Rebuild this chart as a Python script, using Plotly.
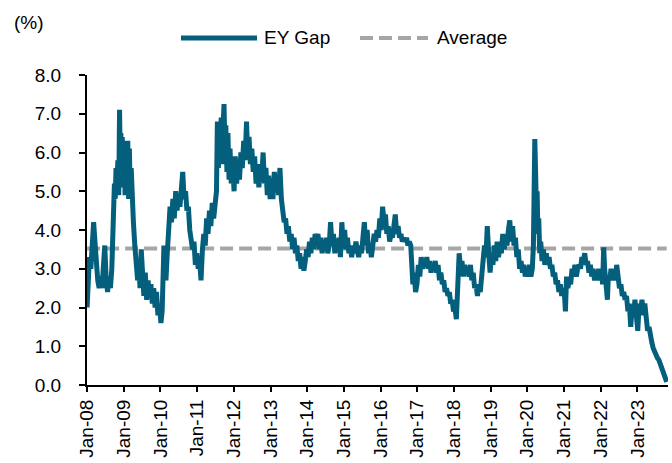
import plotly.graph_objects as go

dates = [
    "2008-01-02","2008-01-15","2008-01-25","2008-02-08","2008-02-22","2008-03-07","2008-03-20","2008-04-03","2008-04-17","2008-05-01","2008-05-15","2008-05-29","2008-06-12","2008-06-26","2008-07-10","2008-07-24","2008-08-07","2008-08-21","2008-09-04","2008-09-18","2008-09-30","2008-10-08","2008-10-16","2008-10-24","2008-11-03","2008-11-12","2008-11-20","2008-11-26","2008-12-03","2008-12-10","2008-12-17","2008-12-24",
    "2009-01-05","2009-01-14","2009-01-22","2009-02-02","2009-02-10","2009-02-18","2009-02-26","2009-03-06","2009-03-16","2009-03-26","2009-04-07","2009-04-21","2009-05-05","2009-05-19","2009-06-02","2009-06-12","2009-06-24","2009-07-06","2009-07-20","2009-08-03","2009-08-17","2009-08-31","2009-09-14","2009-09-28","2009-10-12","2009-10-26","2009-11-09","2009-11-23","2009-12-07","2009-12-21",
    "2010-01-06","2010-01-18","2010-01-28","2010-02-05","2010-02-15","2010-02-25","2010-03-10","2010-03-24","2010-04-07","2010-04-21","2010-05-05","2010-05-19","2010-06-02","2010-06-16","2010-06-30","2010-07-14","2010-07-28","2010-08-11","2010-08-25","2010-09-08","2010-09-22","2010-10-06","2010-10-20","2010-11-03","2010-11-17","2010-12-01","2010-12-15","2010-12-29",
    "2011-01-12","2011-01-26","2011-02-09","2011-02-23","2011-03-09","2011-03-23","2011-04-06","2011-04-20","2011-05-04","2011-05-18","2011-06-01","2011-06-15","2011-06-29","2011-07-13","2011-07-22","2011-08-01","2011-08-10","2011-08-19","2011-08-29","2011-09-08","2011-09-16","2011-09-26","2011-10-05","2011-10-14","2011-10-25","2011-11-04","2011-11-15","2011-11-25","2011-12-07","2011-12-19",
    "2012-01-04","2012-01-16","2012-01-30","2012-02-13","2012-02-27","2012-03-12","2012-03-26","2012-04-09","2012-04-23","2012-05-07","2012-05-18","2012-06-01","2012-06-15","2012-06-29","2012-07-13","2012-07-27","2012-08-10","2012-08-24","2012-09-07","2012-09-21","2012-10-05","2012-10-19","2012-11-02","2012-11-16","2012-11-30","2012-12-14","2012-12-28",
    "2013-01-11","2013-01-25","2013-02-08","2013-02-22","2013-03-08","2013-03-22","2013-04-05","2013-04-19","2013-05-03","2013-05-17","2013-05-31","2013-06-14","2013-06-28","2013-07-12","2013-07-26","2013-08-09","2013-08-23","2013-09-06","2013-09-20","2013-10-04","2013-10-18","2013-11-01","2013-11-15","2013-11-29","2013-12-13","2013-12-27",
    "2014-01-10","2014-01-24","2014-02-07","2014-02-21","2014-03-07","2014-03-21","2014-04-04","2014-04-18","2014-05-02","2014-05-16","2014-05-30","2014-06-13","2014-06-27","2014-07-11","2014-07-25","2014-08-08","2014-08-22","2014-09-05","2014-09-19","2014-10-03","2014-10-17","2014-10-31","2014-11-14","2014-11-28","2014-12-12","2014-12-26",
    "2015-01-09","2015-01-23","2015-02-06","2015-02-20","2015-03-06","2015-03-20","2015-04-03","2015-04-17","2015-05-01","2015-05-15","2015-05-29","2015-06-12","2015-06-26","2015-07-10","2015-07-24","2015-08-07","2015-08-21","2015-09-04","2015-09-18","2015-10-02","2015-10-16","2015-10-30","2015-11-13","2015-11-27","2015-12-11","2015-12-25",
    "2016-01-08","2016-01-22","2016-02-05","2016-02-19","2016-03-04","2016-03-18","2016-04-01","2016-04-15","2016-04-29","2016-05-13","2016-05-27","2016-06-10","2016-06-24","2016-07-08","2016-07-22","2016-08-05","2016-08-19","2016-09-02","2016-09-16","2016-09-30","2016-10-14","2016-10-28","2016-11-08","2016-11-18","2016-12-01","2016-12-15","2016-12-29",
    "2017-01-12","2017-01-26","2017-02-09","2017-02-23","2017-03-09","2017-03-23","2017-04-06","2017-04-20","2017-05-04","2017-05-18","2017-06-01","2017-06-15","2017-06-29","2017-07-13","2017-07-27","2017-08-10","2017-08-24","2017-09-07","2017-09-21","2017-10-05","2017-10-19","2017-11-02","2017-11-16","2017-11-30","2017-12-14","2017-12-28",
    "2018-01-11","2018-01-25","2018-02-08","2018-02-22","2018-03-08","2018-03-22","2018-04-05","2018-04-19","2018-05-03","2018-05-17","2018-05-31","2018-06-14","2018-06-28","2018-07-12","2018-07-26","2018-08-09","2018-08-23","2018-09-06","2018-09-20","2018-10-04","2018-10-18","2018-11-01","2018-11-15","2018-11-29","2018-12-13","2018-12-27",
    "2019-01-10","2019-01-24","2019-02-07","2019-02-21","2019-03-07","2019-03-21","2019-04-04","2019-04-18","2019-05-02","2019-05-16","2019-05-30","2019-06-13","2019-06-27","2019-07-11","2019-07-25","2019-08-08","2019-08-22","2019-09-05","2019-09-19","2019-10-03","2019-10-17","2019-10-31","2019-11-14","2019-11-28","2019-12-12","2019-12-26",
    "2020-01-09","2020-01-23","2020-02-06","2020-02-20","2020-03-02","2020-03-09","2020-03-16","2020-03-23","2020-03-31","2020-04-08","2020-04-16","2020-04-24","2020-05-04","2020-05-14","2020-05-27","2020-06-10","2020-06-24","2020-07-08","2020-07-22","2020-08-05","2020-08-19","2020-09-02","2020-09-16","2020-09-30","2020-10-14","2020-10-28","2020-11-11","2020-11-25","2020-12-09","2020-12-23",
    "2021-01-06","2021-01-15","2021-01-26","2021-02-08","2021-02-22","2021-03-08","2021-03-22","2021-04-05","2021-04-19","2021-05-03","2021-05-17","2021-05-31","2021-06-14","2021-06-28","2021-07-12","2021-07-26","2021-08-09","2021-08-23","2021-09-06","2021-09-20","2021-10-04","2021-10-18","2021-11-01","2021-11-15","2021-11-29","2021-12-13","2021-12-27",
    "2022-01-10","2022-01-20","2022-01-31","2022-02-09","2022-02-18","2022-03-01","2022-03-09","2022-03-18","2022-04-01","2022-04-14","2022-04-28","2022-05-12","2022-05-26","2022-06-09","2022-06-23","2022-07-07","2022-07-21","2022-08-04","2022-08-18","2022-09-01","2022-09-15","2022-09-29","2022-10-13","2022-10-27","2022-11-10","2022-11-24","2022-12-08","2022-12-22",
    "2023-01-05","2023-01-19","2023-02-02","2023-02-16","2023-03-02","2023-03-16","2023-03-30","2023-04-13","2023-04-27","2023-05-11","2023-05-25","2023-06-08","2023-06-22","2023-07-06","2023-07-20","2023-08-03","2023-08-17","2023-08-31","2023-09-14","2023-09-28","2023-10-12","2023-10-20",
]

ey_gap = [
    2.0,2.6,3.3,3.0,3.9,4.2,3.7,3.1,2.7,2.5,2.8,2.5,2.9,3.6,2.7,2.4,2.8,2.5,3.0,4.0,5.2,4.8,5.6,5.0,5.8,4.9,7.1,6.0,6.5,5.1,6.4,5.3,
    6.3,4.9,6.2,5.1,6.3,4.8,6.1,5.0,5.6,4.6,4.2,3.6,3.1,2.7,3.0,2.5,3.5,2.7,2.3,2.9,2.2,2.7,2.3,2.6,2.1,2.5,2.0,2.4,1.8,2.1,
    1.6,1.9,2.8,3.6,3.2,2.7,3.4,4.1,4.6,4.2,4.8,4.3,5.0,4.5,4.9,4.6,5.1,5.5,4.8,5.0,4.5,4.6,4.0,3.8,3.5,3.7,3.1,3.4,
    3.0,3.2,2.7,3.5,3.9,3.6,4.3,3.9,4.5,4.1,4.7,4.3,4.8,5.0,6.8,5.6,6.6,5.9,6.9,5.7,6.6,7.25,6.1,6.7,5.5,6.5,5.3,6.1,5.2,5.8,
    5.0,5.9,5.2,5.8,5.3,6.0,5.6,6.3,5.8,6.8,6.0,6.4,5.7,6.1,5.5,5.9,5.2,5.7,5.1,5.6,5.3,6.0,5.2,5.6,4.9,5.4,4.8,
    5.3,4.8,5.5,5.0,5.4,4.9,5.6,4.8,4.5,4.2,4.3,3.9,4.1,3.7,3.9,3.5,3.8,3.4,3.6,3.2,3.4,3.0,3.3,2.95,3.2,3.5,
    3.3,3.7,3.4,3.8,3.5,3.9,3.6,3.9,3.5,3.8,3.4,3.7,3.5,3.8,3.4,3.6,4.2,3.6,3.9,3.4,3.7,3.5,3.8,3.3,4.2,3.6,
    4.0,3.5,3.8,3.4,3.6,3.3,3.6,3.4,3.7,3.5,3.3,3.6,3.4,3.8,4.2,3.6,4.0,3.4,3.6,3.3,3.6,3.9,3.7,4.0,3.8,4.3,
    4.0,4.6,4.2,4.4,3.9,4.1,3.7,3.9,3.8,4.1,4.4,3.9,4.1,3.8,3.9,3.7,3.8,3.7,3.8,3.6,3.7,3.6,3.0,2.6,2.9,2.4,2.6,
    3.1,2.8,3.3,3.0,3.2,3.1,3.3,3.0,3.2,2.9,3.1,3.0,3.2,2.9,3.1,2.7,2.9,2.6,2.7,2.4,2.5,2.3,2.4,2.1,2.2,1.9,
    2.0,1.7,2.6,3.4,3.0,3.2,2.8,3.1,2.9,3.0,2.8,3.1,2.7,2.9,2.5,2.6,2.3,2.6,2.4,2.9,3.2,3.6,3.3,4.1,3.4,2.9,
    3.4,3.1,3.6,3.2,3.7,3.3,3.6,3.4,3.9,3.5,3.8,3.6,4.0,4.25,3.7,4.1,3.6,3.8,3.3,3.5,3.0,3.2,2.9,3.1,2.8,3.0,
    2.8,3.1,2.8,3.0,3.6,4.8,6.35,5.6,4.6,5.0,3.9,4.3,3.4,3.7,3.2,3.5,3.1,3.4,3.1,3.3,3.0,3.1,2.8,2.9,2.6,2.7,2.4,2.6,2.3,2.5,
    2.3,1.9,2.8,2.5,2.7,2.6,3.0,2.8,3.1,2.8,3.0,3.1,3.0,3.3,3.2,3.4,3.1,3.2,2.9,3.1,2.8,3.0,2.7,2.9,2.7,3.0,2.7,
    2.9,2.6,3.55,3.0,2.8,2.6,2.2,2.8,2.7,3.0,2.7,2.9,2.7,3.1,2.7,2.5,2.6,2.3,2.4,2.2,2.3,1.9,2.1,1.5,2.0,1.8,2.2,1.9,
    1.4,2.1,1.9,2.2,1.8,2.1,1.8,1.4,1.5,1.2,1.1,0.95,0.85,0.8,0.7,0.65,0.55,0.5,0.4,0.3,0.15,0.08,
]

average = 3.52

tick_dates = ["%d-01-01" % y for y in range(2008, 2024)]
tick_labels = ["Jan-%02d" % (y % 100) for y in range(2008, 2024)]
y_ticks = [0, 1, 2, 3, 4, 5, 6, 7, 8]
x_range = ["2008-01-01", "2023-11-02"]

TEAL = "#035f7c"
GREY = "#a6a6a6"
FONT = "Liberation Sans, Arial, sans-serif"
FS = 19

fig = go.Figure()
fig.add_trace(go.Scatter(x=[dates[0], dates[-1]], y=[average, average], mode="lines",
                         name="Average", line=dict(color=GREY, width=4, dash="13px,6px"),
                         showlegend=False))
fig.add_trace(go.Scatter(x=dates, y=ey_gap, mode="lines", name="EY Gap",
                         line=dict(color=TEAL, width=5), showlegend=False))

L, R, T, B = 87, 4, 75, 78
W, H = 672, 463
pw, ph = W - L - R, H - T - B

def px(xp):
    return (xp - L) / pw

def py(yp):
    return (H - B - yp) / ph

shapes = [
    dict(type="line", xref="paper", yref="paper", x0=px(181), x1=px(257), y0=py(38), y1=py(38),
         line=dict(color=TEAL, width=5)),
    dict(type="line", xref="paper", yref="paper", x0=px(360), x1=px(428), y0=py(38), y1=py(38),
         line=dict(color=GREY, width=4, dash="13px,6px")),
]
annotations = [
    dict(text="EY Gap", xref="paper", yref="paper", x=px(262), y=py(38), xanchor="left",
         yanchor="middle", showarrow=False, font=dict(family=FONT, size=FS, color="#000")),
    dict(text="Average", xref="paper", yref="paper", x=px(435), y=py(38), xanchor="left",
         yanchor="middle", showarrow=False, font=dict(family=FONT, size=FS, color="#000")),
    dict(text="(%)", xref="paper", yref="paper", x=px(12), y=py(22), xanchor="left",
         yanchor="middle", showarrow=False, font=dict(family=FONT, size=FS, color="#000")),
]

fig.update_layout(
    width=W, height=H, margin=dict(l=L, r=R, t=T, b=B, pad=0),
    paper_bgcolor="white", plot_bgcolor="white",
    font=dict(family=FONT, size=FS, color="#000"),
    shapes=shapes, annotations=annotations, showlegend=False,
    xaxis=dict(type="date", range=x_range, tickmode="array", tickvals=tick_dates,
               ticktext=tick_labels, tickangle=-90, ticks="outside", ticklen=5, tickwidth=2,
               tickcolor="#000", showline=True, linecolor="#000", linewidth=2,
               showgrid=False, zeroline=False, tickfont=dict(family=FONT, size=FS, color="#000")),
    yaxis=dict(range=[0, 8], tickmode="array", tickvals=y_ticks,
               ticktext=["%.1f" % v for v in y_ticks], ticks="outside", ticklen=6, tickwidth=2,
               tickcolor="#000", showline=True, linecolor="#000", linewidth=2,
               showgrid=False, zeroline=False, ticklabelstandoff=14,
               tickfont=dict(family=FONT, size=FS, color="#000")),
)

fig.write_html("out.html", config={"displayModeBar": False},
               post_script="document.body.style.margin='0';")
